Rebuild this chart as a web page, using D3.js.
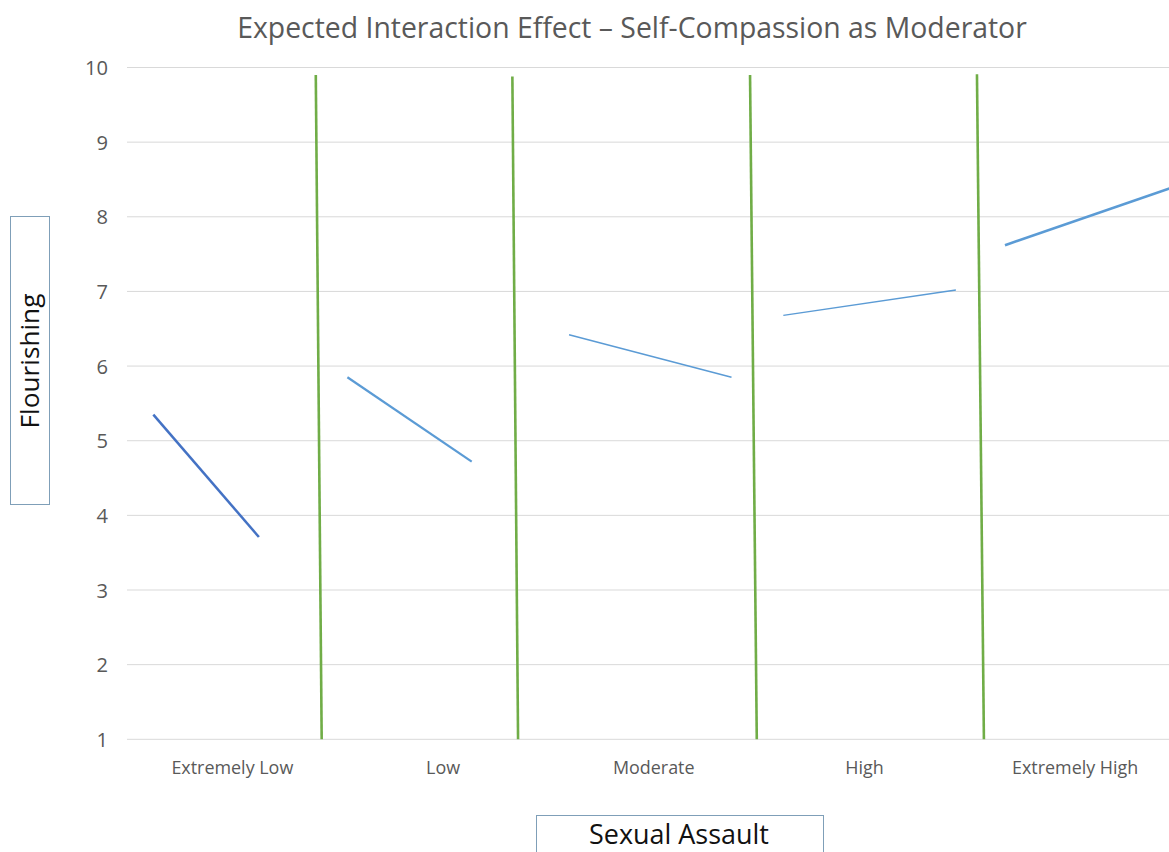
<!DOCTYPE html>
<html>
<head>
<meta charset="utf-8">
<script src="https://cdn.jsdelivr.net/npm/d3@7"></script>
<style>
  html, body { margin: 0; padding: 0; background: #fff; overflow: hidden; }
  svg { display: block; }
</style>
</head>
<body>
<script>
// Categories of the x axis (levels of sexual assault)
const categories = ["Extremely Low", "Low", "Moderate", "High", "Extremely High"];
// Flourishing scale ticks
const yTicks = [1, 2, 3, 4, 5, 6, 7, 8, 9, 10];

// Simple-slope segments, positions in category units (0..5), values on the flourishing scale
const segStartPos = [0.125, 1.046, 2.098, 3.115, 4.167];
const segStartVal = [5.35, 5.85, 6.42, 6.68, 7.62];
const segEndPos   = [0.626, 1.636, 2.869, 3.934, 4.96];
const segEndVal   = [3.71, 4.72, 5.85, 7.02, 8.39];

// Green separators between the levels
const dividerTopPos    = [0.896, 1.829, 2.957, 4.034];
const dividerTopVal    = [9.90, 9.88, 9.90, 9.91];
const dividerBottomPos = [0.924, 1.856, 2.989, 4.067];
const dividerBottomVal = [1, 1, 1, 1];

const title = "Expected Interaction Effect \u2013 Self-Compassion as Moderator";
const yTitle = "Flourishing";
const xTitle = "Sexual Assault";

const W = 1169, H = 852;
const FONT = "'Open Sans', 'Noto Sans', sans-serif";
const plotLeft = 127, bandW = 210.7;
const plotRight = plotLeft + bandW * categories.length;
const plotTop = 67.5, plotBottom = 739.3;

const svg = d3.select("body").append("svg").attr("width", W).attr("height", H);

const x = d3.scaleLinear().domain([0, categories.length]).range([plotLeft, plotRight]);
const xBand = d3.scaleBand().domain(categories).range([plotLeft, plotRight]);
const y = d3.scaleLinear().domain([1, 10]).range([plotBottom, plotTop]);

function fit(sel, target) {
  const w = sel.node().getComputedTextLength();
  const fs = parseFloat(sel.attr("font-size"));
  return fs * target / w;
}

// Gridlines
svg.append("g").selectAll("line").data(yTicks).join("line")
  .attr("x1", plotLeft).attr("x2", plotRight)
  .attr("y1", d => y(d)).attr("y2", d => y(d))
  .attr("stroke", "#d9d9d9").attr("stroke-width", 1);

// Y tick labels
const yt = svg.append("g").selectAll("text").data(yTicks).join("text")
  .attr("x", 108).attr("y", d => y(d))
  .attr("text-anchor", "end").attr("dominant-baseline", "central")
  .attr("font-family", FONT).attr("font-size", 16).attr("fill", "#595959")
  .text(d => d);
const ytSize = fit(yt.filter(d => d === 10), 23);
yt.attr("font-size", ytSize);

// Category labels
const xt = svg.append("g").selectAll("text").data(categories).join("text")
  .attr("x", d => xBand(d) + xBand.bandwidth() / 2).attr("y", 774)
  .attr("text-anchor", "middle")
  .attr("font-family", FONT).attr("font-size", 16).attr("fill", "#595959")
  .text(d => d);
const xtSize = fit(xt.filter(d => d === "Extremely Low"), 122);
xt.attr("font-size", xtSize);

// Separators
svg.append("g").selectAll("line").data(dividerTopPos).join("line")
  .attr("x1", (d, i) => x(d)).attr("y1", (d, i) => y(dividerTopVal[i]))
  .attr("x2", (d, i) => x(dividerBottomPos[i])).attr("y2", (d, i) => y(dividerBottomVal[i]))
  .attr("stroke", "#70ad47").attr("stroke-width", 2.6);

// Slopes
const segColors = ["#4472c4", "#5b9bd5", "#5b9bd5", "#5b9bd5", "#5b9bd5"];
const segWidths = [2.5, 2.2, 1.5, 1.4, 2.6];
svg.append("g").selectAll("line").data(segStartPos).join("line")
  .attr("x1", d => x(d)).attr("y1", (d, i) => y(segStartVal[i]))
  .attr("x2", (d, i) => x(segEndPos[i])).attr("y2", (d, i) => y(segEndVal[i]))
  .attr("stroke", (d, i) => segColors[i]).attr("stroke-width", (d, i) => segWidths[i]);

// Title
const t = svg.append("text")
  .attr("x", 632).attr("y", 38).attr("text-anchor", "middle")
  .attr("font-family", FONT).attr("font-size", 22).attr("fill", "#595959")
  .text(title);
t.attr("font-size", fit(t, 790));

// Y-axis title box
svg.append("rect").attr("x", 10.5).attr("y", 216.5).attr("width", 39).attr("height", 288)
  .attr("fill", "#fff").attr("stroke", "#7f9fb8").attr("stroke-width", 1);
const yl = svg.append("text")
  .attr("transform", "translate(39,361) rotate(-90)")
  .attr("text-anchor", "middle")
  .attr("font-family", FONT).attr("font-size", 22).attr("fill", "#111")
  .text(yTitle);
yl.attr("font-size", fit(yl, 135));

// X-axis title box
svg.append("rect").attr("x", 536.5).attr("y", 815.5).attr("width", 287).attr("height", 60)
  .attr("fill", "#fff").attr("stroke", "#7f9fb8").attr("stroke-width", 1);
const xl = svg.append("text")
  .attr("x", 679).attr("y", 844).attr("text-anchor", "middle")
  .attr("font-family", FONT).attr("font-size", 24).attr("fill", "#111")
  .text(xTitle);
xl.attr("font-size", fit(xl, 180));
</script>
</body>
</html>
